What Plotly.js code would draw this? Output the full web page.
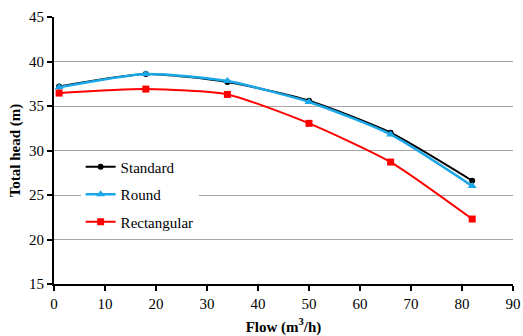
<!DOCTYPE html>
<html>
<head>
<meta charset="utf-8">
<script src="https://cdn.plot.ly/plotly-3.0.1.min.js"></script>
<style>html,body{margin:0;padding:0;background:#fff;}#chart{width:523px;height:336px;}</style>
</head>
<body>
<div id="chart"></div>
<script>
var flow = [1, 18, 34, 50, 66, 82];
var standard = [37.2, 38.6, 37.7, 35.6, 32.0, 26.6];
var round = [37.1, 38.6, 37.8, 35.45, 31.8, 26.0];
var rectangular = [36.45, 36.9, 36.3, 33.05, 28.7, 22.3];

var seriesNames = ['Standard', 'Round', 'Rectangular'];
var xTitle = 'Flow (m<sup>3</sup>/h)';
var yTitle = 'Total head (m)';

var font = '"Liberation Serif", "Times New Roman", serif';

var traces = [
  {x: flow, y: standard, name: seriesNames[0], legendgroup: 'a', mode: 'lines+markers',
   line: {color: '#000000', width: 2, shape: 'spline', smoothing: 0.6},
   marker: {symbol: 'circle', size: 6, color: '#000000'}},
  {x: flow, y: round, name: seriesNames[1], legendgroup: 'b', mode: 'lines+markers',
   line: {color: '#1AA7E8', width: 2.5, shape: 'spline', smoothing: 0.6},
   marker: {symbol: 'triangle-up', size: 8, color: '#1AA7E8'}},
  {x: flow, y: rectangular, name: seriesNames[2], legendgroup: 'c', mode: 'lines+markers',
   line: {color: '#FF0000', width: 2, shape: 'spline', smoothing: 0.6},
   marker: {symbol: 'square', size: 7, color: '#FF0000'}}
];

var layout = {
  width: 523, height: 336,
  margin: {l: 54, r: 10, t: 17, b: 52},
  paper_bgcolor: '#ffffff', plot_bgcolor: '#ffffff',
  font: {family: font, size: 15, color: '#000'},
  showlegend: true,
  legend: {x: 0.058, y: 0.5, xanchor: 'left', yanchor: 'top', bgcolor: '#ffffff',
           traceorder: 'grouped', tracegroupgap: 5, font: {family: font, size: 15, color: '#000'},
           itemwidth: 30},
  xaxis: {range: [0, 90], dtick: 10, tick0: 0, showgrid: false, zeroline: false,
          showline: true, linecolor: '#000', linewidth: 2,
          ticks: 'outside', ticklen: 5, tickwidth: 2, tickcolor: '#000',
          tickfont: {family: font, size: 15},
          title: {text: xTitle, font: {family: font, size: 15, weight: 'bold'}, standoff: 10}},
  yaxis: {range: [15, 45], dtick: 5, tick0: 15, showgrid: true, gridcolor: '#a6a6a6', gridwidth: 1,
          zeroline: false, showline: true, linecolor: '#000', linewidth: 2,
          ticks: 'outside', ticklen: 5, tickwidth: 2, tickcolor: '#000',
          tickfont: {family: font, size: 15},
          title: {text: yTitle, font: {family: font, size: 15, weight: 'bold'}, standoff: 5}}
};

Plotly.newPlot('chart', traces, layout, {displayModeBar: false, staticPlot: true});
</script>
</body>
</html>
